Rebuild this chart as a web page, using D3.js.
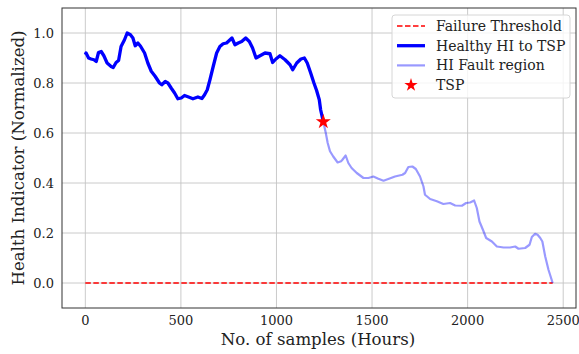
<!DOCTYPE html>
<html>
<head>
<meta charset="utf-8">
<script src="https://cdn.jsdelivr.net/npm/d3@7"></script>
<style>
  body { margin: 0; background: #fff; }
  svg text { font-family: "DejaVu Serif", serif; fill: #222; }
</style>
</head>
<body>
<div id="chart"></div>
<script>
// ── Data ────────────────────────────────────────────────────────────────
const healthyX = [0, 4, 17, 30, 45, 57, 69, 83, 97, 114, 135, 146, 161, 174, 187, 205, 219, 236, 249, 261,
  275, 289, 310, 327, 345, 366, 388, 400, 418, 432, 449, 467, 484, 502, 519, 540, 563, 589, 610, 624,
  638, 652, 669, 687, 704, 721, 739, 753, 767, 783, 800, 818, 839, 858, 875, 893, 914, 940, 966, 980,
  997, 1018, 1045, 1071, 1085, 1106, 1128, 1146, 1161, 1179, 1196, 1210, 1224, 1231, 1245];
const healthyY = [0.913, 0.92, 0.90, 0.896, 0.893, 0.886, 0.922, 0.926, 0.909, 0.88, 0.866, 0.862, 0.882, 0.89, 0.946, 0.973, 1.0, 0.993, 0.98, 0.949,
  0.96, 0.947, 0.92, 0.88, 0.847, 0.826, 0.80, 0.793, 0.806, 0.80, 0.78, 0.76, 0.737, 0.74, 0.75, 0.744, 0.737, 0.744, 0.738, 0.753,
  0.773, 0.813, 0.866, 0.92, 0.946, 0.957, 0.96, 0.97, 0.98, 0.953, 0.96, 0.966, 0.98, 0.966, 0.94, 0.90, 0.909, 0.92, 0.917, 0.882,
  0.896, 0.909, 0.893, 0.873, 0.853, 0.88, 0.896, 0.90, 0.88, 0.84, 0.80, 0.77, 0.733, 0.693, 0.645];

const faultX = [1245, 1258, 1268, 1280, 1297, 1320, 1338, 1345, 1362, 1376, 1393, 1420, 1455, 1481, 1507, 1533, 1560, 1585, 1620, 1659,
  1673, 1690, 1711, 1729, 1751, 1769, 1777, 1804, 1839, 1873, 1908, 1935, 1970, 1992, 2013, 2034, 2048, 2062, 2080, 2097,
  2127, 2153, 2188, 2222, 2249, 2266, 2301, 2324, 2336, 2353, 2366, 2380, 2391, 2406, 2423, 2445];
const faultY = [0.645, 0.60, 0.56, 0.527, 0.506, 0.482, 0.487, 0.493, 0.51, 0.48, 0.46, 0.44, 0.42, 0.42, 0.426, 0.417, 0.409, 0.416, 0.426, 0.433,
  0.44, 0.464, 0.466, 0.456, 0.426, 0.386, 0.353, 0.336, 0.327, 0.316, 0.32, 0.31, 0.309, 0.32, 0.322, 0.33, 0.30, 0.246, 0.213, 0.18,
  0.166, 0.146, 0.142, 0.142, 0.146, 0.137, 0.14, 0.153, 0.184, 0.197, 0.193, 0.18, 0.166, 0.106, 0.053, 0.0];

const tspPoint = [1245, 0.645];
const thresholdX = [0, 2445];
const thresholdY = 0;

const xTicks = [0, 500, 1000, 1500, 2000, 2500];
const yTicks = [0.0, 0.2, 0.4, 0.6, 0.8, 1.0];
const legendLabels = ["Failure Threshold", "Healthy HI to TSP", "HI Fault region", "TSP"];

// ── Dimensions ─────────────────────────────────────────────────────────
const W = 579, H = 354;
const margin = { top: 8, right: 3, bottom: 46, left: 62 };
const width = W - margin.left - margin.right;
const height = H - margin.top - margin.bottom;

const svg = d3.select("#chart").append("svg")
  .attr("width", W).attr("height", H);
const g = svg.append("g").attr("transform", `translate(${margin.left},${margin.top})`);

// ── Scales ─────────────────────────────────────────────────────────────
const x = d3.scaleLinear().domain([-122, 2567]).range([0, width]);
const y = d3.scaleLinear().domain([-0.1, 1.1]).range([height, 0]);

// ── Grid ───────────────────────────────────────────────────────────────
g.append("g").selectAll("line").data(xTicks).join("line")
  .attr("x1", d => x(d)).attr("x2", d => x(d))
  .attr("y1", 0).attr("y2", height)
  .attr("stroke", "#c4c4c4").attr("stroke-width", 0.9);
g.append("g").selectAll("line").data(yTicks).join("line")
  .attr("y1", d => y(d)).attr("y2", d => y(d))
  .attr("x1", 0).attr("x2", width)
  .attr("stroke", "#c4c4c4").attr("stroke-width", 0.9);

// ── Lines ──────────────────────────────────────────────────────────────
const line = d3.line().x(d => x(d[0])).y(d => y(d[1]));

g.append("path")
  .datum(thresholdX.map(v => [v, thresholdY]))
  .attr("fill", "none").attr("stroke", "#ff0000")
  .attr("stroke-width", 1.7).attr("stroke-dasharray", "5.5 2.5")
  .attr("d", line);

g.append("path")
  .datum(faultX.map((v, i) => [v, faultY[i]]))
  .attr("fill", "none").attr("stroke", "#0000ff").attr("stroke-opacity", 0.4)
  .attr("stroke-width", 2.2).attr("stroke-linejoin", "round")
  .attr("d", line);

g.append("path")
  .datum(healthyX.map((v, i) => [v, healthyY[i]]))
  .attr("fill", "none").attr("stroke", "#0000ff")
  .attr("stroke-width", 3.3).attr("stroke-linejoin", "round")
  .attr("d", line);

const star = d3.symbol().type(d3.symbolStar);
g.append("path")
  .attr("d", star.size(70)())
  .attr("transform", `translate(${x(tspPoint[0])},${y(tspPoint[1])})`)
  .attr("fill", "#ff0000");

// ── Frame ──────────────────────────────────────────────────────────────
g.append("rect")
  .attr("width", width).attr("height", height)
  .attr("fill", "none").attr("stroke", "#333").attr("stroke-width", 1);

// ── Tick labels ────────────────────────────────────────────────────────
g.append("g").selectAll("text").data(xTicks).join("text")
  .attr("x", d => x(d)).attr("y", height + 17)
  .attr("text-anchor", "middle").style("font-size", "13px")
  .text(d => d);
g.append("g").selectAll("text").data(yTicks).join("text")
  .attr("x", -8).attr("y", d => y(d) + 4.5)
  .attr("text-anchor", "end").style("font-size", "13px")
  .text(d => d.toFixed(1));

// ── Axis labels ────────────────────────────────────────────────────────
svg.append("text")
  .attr("x", 318).attr("y", 345)
  .attr("text-anchor", "middle").style("font-size", "16.6px")
  .text("No. of samples (Hours)");
svg.append("text")
  .attr("transform", `translate(24,${margin.top + height / 2}) rotate(-90)`)
  .attr("text-anchor", "middle").style("font-size", "16.6px")
  .text("Health Indicator (Normalized)");

// ── Legend ─────────────────────────────────────────────────────────────
const legend = svg.append("g").attr("transform", "translate(392,15)");
legend.append("rect")
  .attr("width", 178).attr("height", 83).attr("rx", 3)
  .attr("fill", "#fff").attr("fill-opacity", 0.8)
  .attr("stroke", "#d6d6d6").attr("stroke-width", 1);

legendLabels.forEach((label, i) => {
  const row = legend.append("g").attr("transform", `translate(0,${11 + i * 19.7})`);
  if (i === 0) {
    row.append("line").attr("x1", 5).attr("x2", 33)
      .attr("stroke", "#ff0000").attr("stroke-width", 1.7).attr("stroke-dasharray", "5.5 2.5");
  } else if (i === 1) {
    row.append("line").attr("x1", 5).attr("x2", 33)
      .attr("stroke", "#0000ff").attr("stroke-width", 3.3);
  } else if (i === 2) {
    row.append("line").attr("x1", 5).attr("x2", 33)
      .attr("stroke", "#0000ff").attr("stroke-opacity", 0.4).attr("stroke-width", 2.2);
  } else {
    row.append("path").attr("d", star.size(55)())
      .attr("transform", "translate(19,0)").attr("fill", "#ff0000");
  }
  row.append("text").attr("x", 44).attr("y", 5)
    .style("font-size", "14px").text(label);
});
</script>
</body>
</html>
